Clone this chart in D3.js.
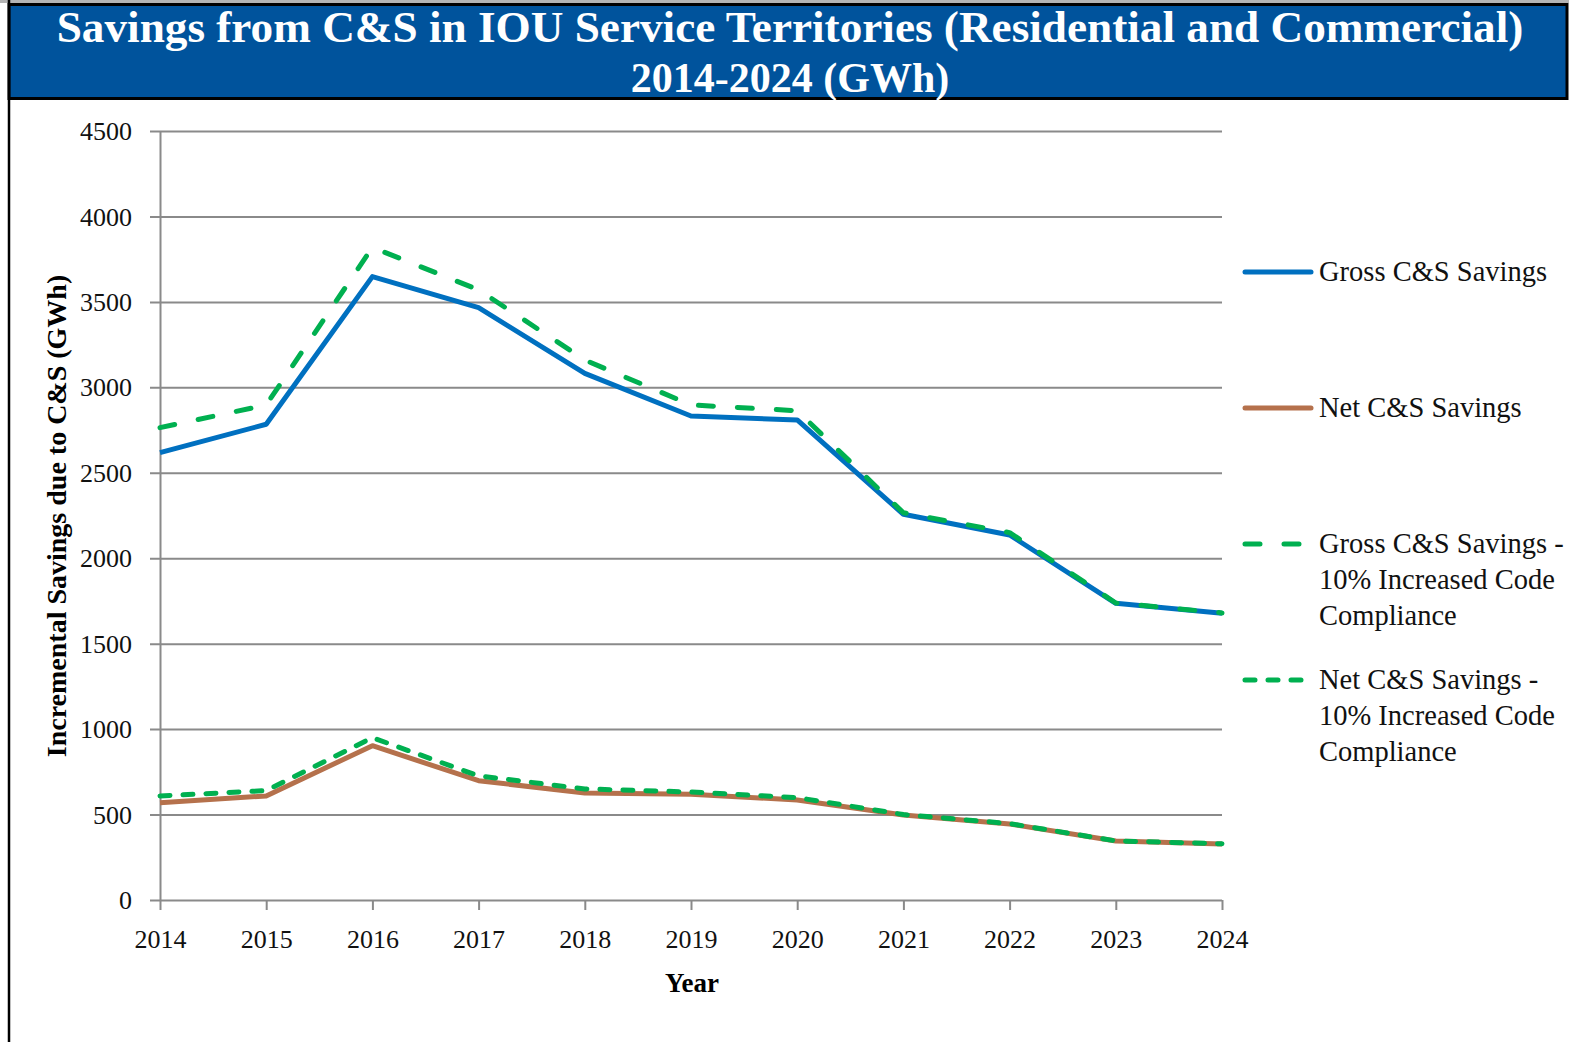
<!DOCTYPE html>
<html>
<head>
<meta charset="utf-8">
<script src="https://cdn.jsdelivr.net/npm/d3@7"></script>
<style>
  html, body { margin: 0; padding: 0; background: #fff; }
  svg { display: block; font-family: 'Liberation Serif', 'Times New Roman', serif; }
</style>
</head>
<body>
<svg id="chart" width="1569" height="1042"></svg>
<script>
const years = [2014, 2015, 2016, 2017, 2018, 2019, 2020, 2021, 2022, 2023, 2024]
const grossSavings = [2618, 2784, 3648, 3466, 3082, 2832, 2809, 2257, 2136, 1736, 1678]
const netSavings = [569, 609, 903, 698, 626, 619, 585, 497, 445, 345, 328]
const grossCompliance = [2764, 2897, 3819, 3570, 3160, 2897, 2863, 2266, 2150, 1738, 1680]
const netCompliance = [609, 640, 950, 726, 650, 632, 599, 500, 447, 346, 329]
const yTicks = [0, 500, 1000, 1500, 2000, 2500, 3000, 3500, 4000, 4500]
const titleLines = ['Savings from C&S in IOU Service Territories (Residential and Commercial)', '2014-2024 (GWh)']

const series = [
  { name: ['Gross C&S Savings'], values: grossSavings, color: '#0070c0', dash: null, legendY: 272 },
  { name: ['Net C&S Savings'], values: netSavings, color: '#b5714c', dash: null, legendY: 408 },
  { name: ['Gross C&S Savings -', '10% Increased Code', 'Compliance'], values: grossCompliance, color: '#00b050', dash: '15,24', legendY: 544 },
  { name: ['Net C&S Savings -', '10% Increased Code', 'Compliance'], values: netCompliance, color: '#00b050', dash: '10,13', legendY: 680 },
]

const GRID_COLOR = '#8a8a8a'
const svg = d3.select('#chart')

const x = d3.scaleLinear().domain([2014, 2024]).range([160, 1222])
const y = d3.scaleLinear().domain([0, 4500]).range([900, 131])

function drawTitle() {
  svg.append('rect').attr('x', 0).attr('y', 0).attr('width', 1569).attr('height', 3).attr('fill', '#b4b4b4')
  svg
    .append('rect')
    .attr('x', 9)
    .attr('y', 4.5)
    .attr('width', 1558)
    .attr('height', 94)
    .attr('fill', '#00539c')
    .attr('stroke', '#000')
    .attr('stroke-width', 3)

  const baselines = [42, 92]
  titleLines.forEach(function (line, i) {
    const t = svg
      .append('text')
      .attr('x', 790)
      .attr('y', baselines[i])
      .attr('text-anchor', 'middle')
      .attr('fill', '#fff')
      .attr('font-weight', 'bold')
      .attr('font-size', 42)
      .text(line)
    // scale first line to reference width
    if (i === 0) {
      const w = t.node().getComputedTextLength()
      t.attr('font-size', (42 * 1467) / w)
    }
  })

  // left frame edge
  svg.append('line').attr('x1', 9).attr('x2', 9).attr('y1', 0).attr('y2', 1042).attr('stroke', '#000').attr('stroke-width', 2.5)
}

function drawAxes() {
  const grid = svg
    .append('g')
    .attr('transform', 'translate(150,0)')
    .call(d3.axisLeft(y).tickValues(yTicks).tickSize(-1072).tickFormat(''))
  grid.select('.domain').remove()
  grid.selectAll('.tick line').attr('stroke', GRID_COLOR).attr('stroke-width', 2)

  const yAxis = svg
    .append('g')
    .attr('transform', 'translate(160,0)')
    .call(d3.axisLeft(y).tickValues(yTicks).tickFormat(d3.format('d')).tickSize(0).tickPadding(28))
    .attr('font-family', null)
    .attr('font-size', 26)
  yAxis.select('.domain').attr('stroke', GRID_COLOR).attr('stroke-width', 2)
  yAxis.selectAll('.tick text').attr('fill', '#111').attr('dy', '0.33em')

  const xAxis = svg
    .append('g')
    .attr('transform', 'translate(0,900)')
    .call(d3.axisBottom(x).tickValues(years).tickFormat(d3.format('d')).tickSize(10).tickPadding(20))
    .attr('font-family', null)
    .attr('font-size', 26)
  xAxis.select('.domain').remove()
  xAxis.selectAll('.tick line').attr('stroke', GRID_COLOR).attr('stroke-width', 2)
  xAxis.selectAll('.tick text').attr('fill', '#111')

  svg
    .append('text')
    .attr('x', 692)
    .attr('y', 992)
    .attr('text-anchor', 'middle')
    .attr('font-weight', 'bold')
    .attr('font-size', 27)
    .text('Year')

  svg
    .append('text')
    .attr('transform', 'translate(66,516) rotate(-90)')
    .attr('text-anchor', 'middle')
    .attr('font-weight', 'bold')
    .attr('font-size', 28)
    .text('Incremental Savings due to C&S (GWh)')
}

function drawLines() {
  const line = d3
    .line()
    .x((d, i) => x(years[i]))
    .y((d) => y(d))

  series.forEach(function (s) {
    svg
      .append('path')
      .datum(s.values)
      .attr('d', line)
      .attr('fill', 'none')
      .attr('stroke', s.color)
      .attr('stroke-width', 5)
      .attr('stroke-linejoin', 'round')
      .attr('stroke-linecap', s.dash ? 'round' : 'butt')
      .attr('stroke-dasharray', s.dash)
  })
}

function drawLegend() {
  series.forEach(function (s) {
    const g = svg.append('g').attr('transform', 'translate(1245,' + s.legendY + ')')
    g.append('line')
      .attr('x1', 0)
      .attr('x2', 66)
      .attr('stroke', s.color)
      .attr('stroke-width', 5)
      .attr('stroke-linecap', 'round')
      .attr('stroke-dasharray', s.dash)
    s.name.forEach(function (label, i) {
      g.append('text')
        .attr('x', 74)
        .attr('y', 9 + i * 36)
        .attr('font-size', 28.5)
        .attr('fill', '#111')
        .text(label)
    })
  })
}

drawTitle()
drawAxes()
drawLines()
drawLegend()
</script>
</body>
</html>
